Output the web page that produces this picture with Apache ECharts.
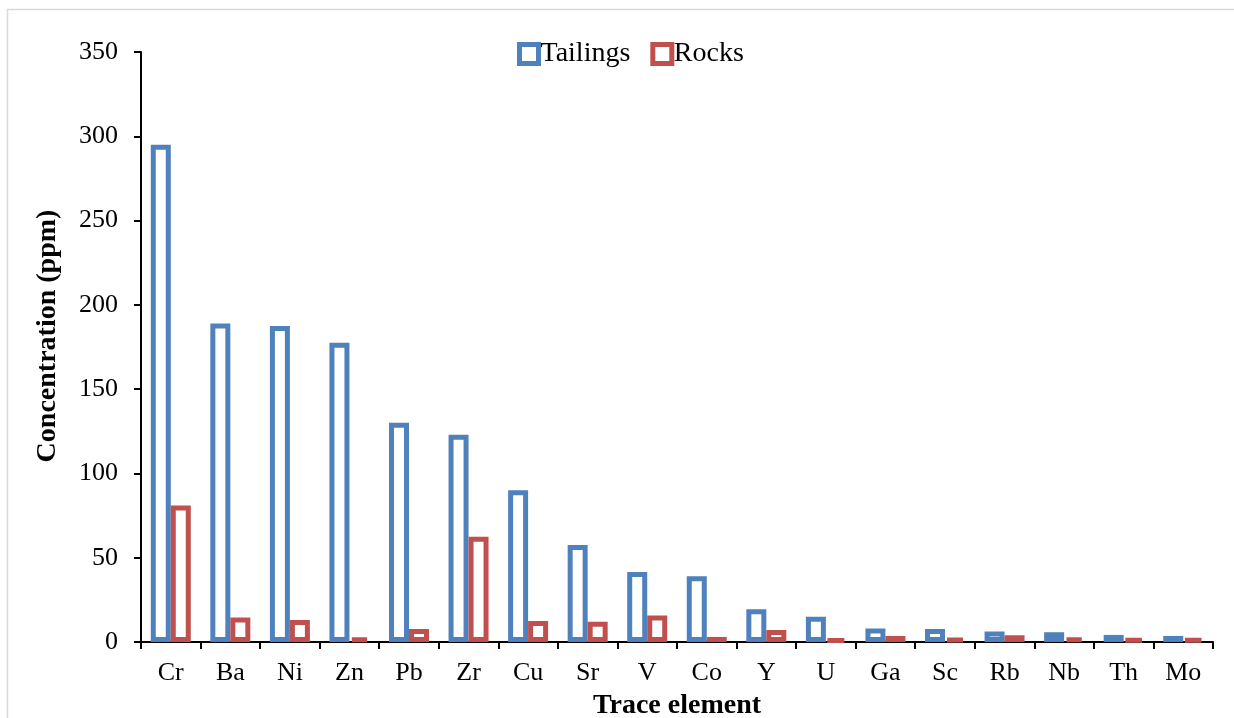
<!DOCTYPE html>
<html>
<head>
<meta charset="utf-8">
<script src="https://cdn.jsdelivr.net/npm/echarts@6/dist/echarts.min.js"></script>
<style>
  html, body { margin: 0; padding: 0; background: #fff; }
  #chart { width: 1234px; height: 718px; }
</style>
</head>
<body>
<div id="chart"></div>
<script>
// values (ppm)
var elements = ['Cr', 'Ba', 'Ni', 'Zn', 'Pb', 'Zr', 'Cu', 'Sr', 'V', 'Co', 'Y', 'U', 'Ga', 'Sc', 'Rb', 'Nb', 'Th', 'Mo'];
var tailings = [295, 189, 187.5, 177.5, 130, 123, 90, 57.5, 41.5, 39, 19.5, 15, 8, 7.7, 6.3, 5.8, 4.2, 3.6];
var rocks = [81, 14.6, 13, 2.8, 7.7, 62.5, 12.5, 12, 15.7, 3, 7.1, 1.8, 3.6, 2.4, 4, 2.8, 2, 2];
var yTicks = [0, 50, 100, 150, 200, 250, 300, 350];

var BLUE = '#4F81BD', RED = '#C0504D';
var font = 'Liberation Serif, Times New Roman, serif';

var chart = echarts.init(document.getElementById('chart'));

function hollow( color )
{
	return { color: '#fff', borderColor: color, borderWidth: 5 };
}

var option = {
	animation: false,
	textStyle: { fontFamily: font },
	grid: { left: 141, right: 21, top: 52, bottom: 76, containLabel: false, outerBoundsMode: 'none' },
	legend: {
		top: 35,
		left: 512,
		itemWidth: 19,
		itemHeight: 19,
		itemGap: 20,
		icon: 'rect',
		textStyle: { fontFamily: font, fontSize: 28, color: '#000', padding: [0, 0, 0, -3] },
		data: [
			{ name: 'Tailings', itemStyle: { color: '#fff', borderColor: BLUE, borderWidth: 5 } },
			{ name: 'Rocks', itemStyle: { color: '#fff', borderColor: RED, borderWidth: 5 } }
		]
	},
	xAxis: {
		type: 'category',
		data: elements,
		name: 'Trace element',
		nameLocation: 'middle',
		nameGap: 50,
		nameTextStyle: { fontFamily: font, fontSize: 28, fontWeight: 'bold', color: '#000' },
		axisLine: { lineStyle: { color: '#000', width: 2 } },
		axisTick: { show: true, alignWithLabel: false, length: 7, lineStyle: { color: '#000', width: 2 } },
		axisLabel: { fontFamily: font, fontSize: 26, color: '#000', margin: 18 },
		splitLine: { show: false }
	},
	yAxis: {
		type: 'value',
		min: 0,
		max: 350,
		interval: 50,
		name: 'Concentration (ppm)',
		nameLocation: 'middle',
		nameGap: 79,
		nameTextStyle: { fontFamily: font, fontSize: 28, fontWeight: 'bold', color: '#000', padding: [0, 0, 0, 22] },
		axisLine: { show: true, lineStyle: { color: '#000', width: 2 } },
		axisTick: { show: true, length: 7, lineStyle: { color: '#000', width: 2 } },
		axisLabel: {
			fontFamily: font, fontSize: 26, color: '#000', margin: 23,
			formatter: function( v ){ return yTicks.indexOf(v) >= 0 ? String(v) : ''; }
		},
		splitLine: { show: false }
	},
	series: [
		{
			name: 'Tailings',
			type: 'bar',
			data: tailings,
			barWidth: 20,
			barGap: '0%',
			itemStyle: hollow(BLUE)
		},
		{
			name: 'Rocks',
			type: 'bar',
			data: rocks,
			barWidth: 20,
			itemStyle: hollow(RED)
		}
	],
	graphic: [
		{
			type: 'rect',
			silent: true,
			shape: { x: 7.5, y: 9.5, width: 1240, height: 760 },
			style: { fill: 'none', stroke: '#d9d9d9', lineWidth: 1.5 },
			z: -1
		}
	]
};

chart.setOption(option);
</script>
</body>
</html>
